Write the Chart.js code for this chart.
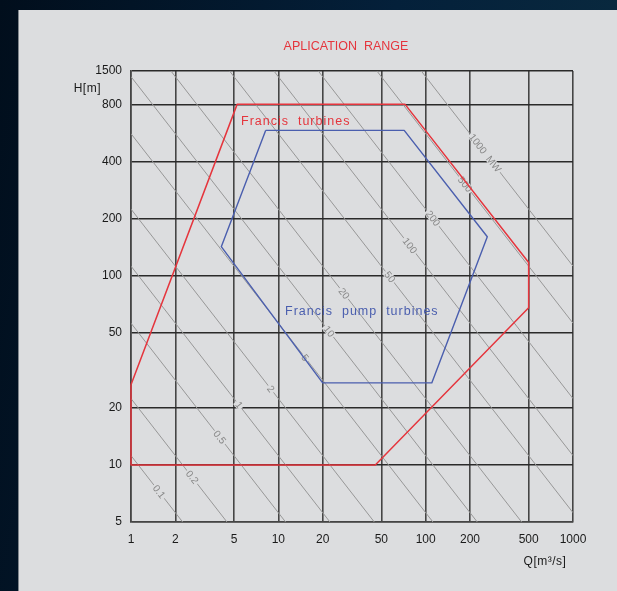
<!DOCTYPE html>
<html>
<head>
<meta charset="utf-8">
<script src="https://cdn.jsdelivr.net/npm/chart.js@4.4.1/dist/chart.umd.min.js"></script>
<style>
  html, body { margin: 0; padding: 0; }
  body {
    width: 617px; height: 591px; overflow: hidden; position: relative;
    background: linear-gradient(100deg, #010e1c 0%, #04203a 55%, #0b2c40 100%);
  }
  #panel {
    position: absolute; left: 18px; top: 10px; right: 0; bottom: 0;
    background: #dcdddf; border-left: 1px solid #7f858b;
  }
  #chart { position: absolute; left: 0; top: 0; }
</style>
</head>
<body>
<div id="panel"></div>
<canvas id="chart" width="617" height="591"></canvas>
<script>
// axes
const qTicks = [1, 2, 5, 10, 20, 50, 100, 200, 500, 1000];
const qTickLabels = ['1', '2', '5', '10', '20', '50', '100', '200', '500', '1000'];
const hTicks = [5, 10, 20, 50, 100, 200, 400, 800, 1200];
const hTickLabels = ['5', '10', '20', '50', '100', '200', '400', '800', '1500'];

// constant power lines (MW)
const powerMW = [0.1, 0.2, 0.5, 1, 2, 5, 10, 20, 50, 100, 200, 500, 1000];

// Francis turbines envelope
const francisQ = [1, 1, 45.5, 500, 500, 72.5, 5.25, 1];
const francisH = [26.5, 10, 10, 67.5, 117, 800, 800, 26.5];

// Francis pump turbines envelope
const pumpQ = [8.2, 71.5, 262, 110, 20, 4.1, 8.2];
const pumpH = [583, 583, 160, 27.1, 27.1, 142, 583];

const chartTitle = 'APLICATION  RANGE';

// P = rho * g * Q * H * eta
const RG_ETA = 9.81 * 0.91 / 1000;
function headAt(p, q) {
  return p / (RG_ETA * q);
}

const RED = '#e5353d';
const BLUE = '#4a5eae';
const PANEL = '#dcdddf';
const FONT = '"Liberation Sans", Arial, sans-serif';

// where the MW labels sit along each line (Q)
const powerLabelQ = [1.55, 2.6, 4.0, 5.4, 8.9, 15.2, 22.1, 27.9, 57, 78, 112, 185, 253];

const toPoints = (qs, hs) => qs.map((q, i) => ({ x: q, y: hs[i] }));

const datasets = [
  {
    label: 'Francis turbines',
    data: toPoints(francisQ, francisH),
    borderColor: RED, borderWidth: 1.5, pointRadius: 0, fill: false,
    borderJoinStyle: 'round', tension: 0, clip: 3
  },
  {
    label: 'Francis pump turbines',
    data: toPoints(pumpQ, pumpH),
    borderColor: BLUE, borderWidth: 1.4, pointRadius: 0, fill: false,
    borderJoinStyle: 'round', tension: 0, clip: 3
  }
];
powerMW.forEach((p, i) => {
  datasets.push({
    label: p + ' MW',
    powerIndex: i,
    data: [{ x: 1, y: headAt(p, 1) }, { x: 1000, y: headAt(p, 1000) }],
    borderColor: '#979797', borderWidth: 1, pointRadius: 0, fill: false,
    order: 1
  });
});

// MW labels on the power lines, drawn right after each line
const lineLabels = {
  id: 'lineLabels',
  afterDatasetDraw(chart, args) {
    const ds = chart.data.datasets[args.index];
    if (ds.powerIndex === undefined) return;
    const i = ds.powerIndex;
    const p = powerMW[i], q = powerLabelQ[i];
    const xs = chart.scales.x, ys = chart.scales.y;
    const x = xs.getPixelForValue(q), y = ys.getPixelForValue(headAt(p, q));
    const x2 = xs.getPixelForValue(q * 2), y2 = ys.getPixelForValue(headAt(p, q * 2));
    const ang = Math.atan2(y2 - y, x2 - x);
    const text = p === 1000 ? '1000  MW' : String(p);
    const ctx = chart.ctx;
    ctx.save();
    ctx.translate(x, y);
    ctx.rotate(ang);
    ctx.font = '10px ' + FONT;
    const w = ctx.measureText(text).width;
    ctx.fillStyle = PANEL;
    ctx.fillRect(-w / 2 - 1.5, -4, w + 3, 8);
    ctx.fillStyle = '#878787';
    ctx.textAlign = 'center';
    ctx.textBaseline = 'middle';
    ctx.fillText(text, 0, 0.5);
    ctx.restore();
  }
};

// title, axis names and envelope names
const annotations = {
  id: 'annotations',
  afterDraw(chart) {
    const ctx = chart.ctx, xs = chart.scales.x, ys = chart.scales.y;
    ctx.save();
    ctx.textBaseline = 'middle';

    ctx.font = '12.5px ' + FONT;
    ctx.fillStyle = RED;
    ctx.textAlign = 'center';
    ctx.fillText(chartTitle, 346, 47);

    ctx.letterSpacing = '1px';
    ctx.textAlign = 'left';
    ctx.fillText('Francis  turbines', xs.getPixelForValue(5.58), ys.getPixelForValue(650));
    ctx.fillStyle = BLUE;
    ctx.fillText('Francis  pump  turbines', xs.getPixelForValue(11.1), ys.getPixelForValue(64.5));

    ctx.letterSpacing = '0.5px';
    ctx.fillStyle = '#1a1a1a';
    ctx.font = '12px ' + FONT;
    ctx.textAlign = 'right';
    ctx.fillText('H[m]', 101, 89);
    ctx.textAlign = 'center';
    ctx.fillText('Q[m\u00b3/s]', 545, 562);
    ctx.restore();
  }
};

const tickFont = { family: FONT, size: 12 };

new Chart(document.getElementById('chart'), {
  type: 'line',
  data: { datasets },
  options: {
    responsive: false,
    devicePixelRatio: 1,
    animation: false,
    events: [],
    layout: { padding: { left: 0, top: 71, right: 44, bottom: 29 } },
    plugins: {
      legend: { display: false },
      tooltip: { enabled: false },
      title: { display: false }
    },
    scales: {
      x: {
        type: 'logarithmic',
        min: 1,
        max: 1000,
        afterBuildTicks: (axis) => { axis.ticks = qTicks.map(v => ({ value: v })); },
        afterFit: (axis) => { axis.height = 40; },
        grid: { color: '#454545', lineWidth: 1.6, drawTicks: false },
        border: { color: '#454545', width: 1.6 },
        ticks: {
          autoSkip: false, maxRotation: 0, padding: 10,
          color: '#1a1a1a', font: tickFont,
          callback: (v, i) => qTickLabels[i]
        }
      },
      y: {
        type: 'logarithmic',
        min: 5,
        max: 1200,
        afterBuildTicks: (axis) => { axis.ticks = hTicks.map(v => ({ value: v })); },
        afterFit: (axis) => { axis.width = 131; },
        grid: { color: '#2a2a2a', lineWidth: 1.5, drawTicks: false },
        border: { color: '#454545', width: 1.6 },
        ticks: {
          autoSkip: false, padding: 9,
          color: '#1a1a1a', font: tickFont,
          callback: (v, i) => hTickLabels[i]
        }
      }
    }
  },
  plugins: [lineLabels, annotations]
});
</script>
</body>
</html>
